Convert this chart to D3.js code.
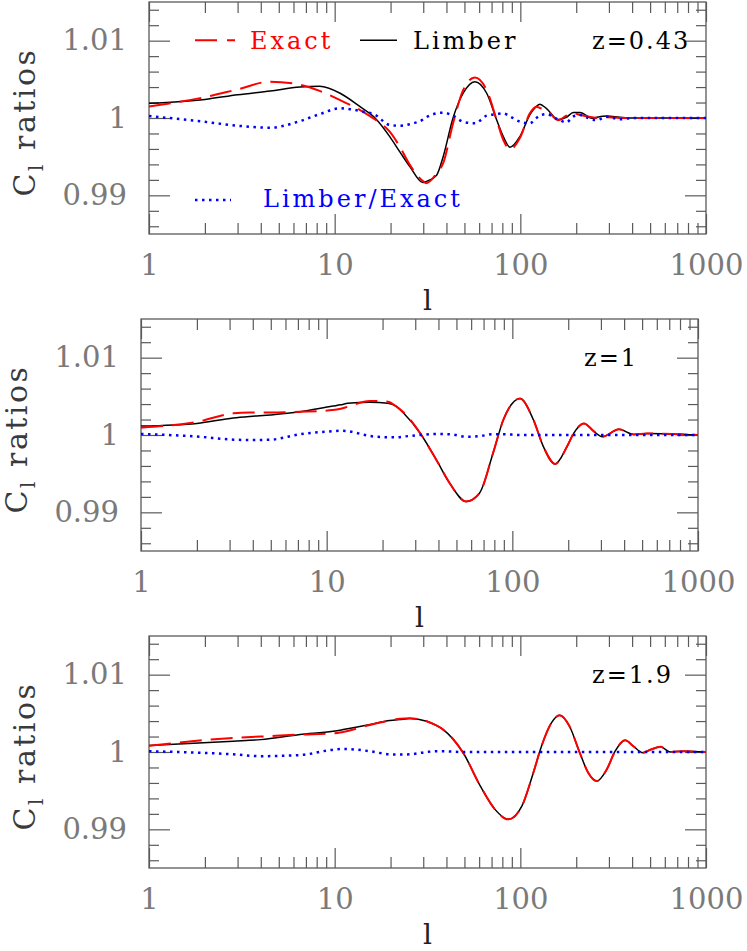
<!DOCTYPE html>
<html>
<head>
<meta charset="utf-8">
<script src="https://cdn.jsdelivr.net/npm/d3@7"></script>
<style>
  body { margin: 0; background: #fff; }
  svg { display: block; font-family: "DejaVu Serif", serif; }
</style>
</head>
<body>
<div id="chart"></div>
<script>
// z = 0.43
const ell1 = [1, 2, 3, 4.5, 6.5, 8.3, 10.7, 13.7, 16.5, 19.8, 22.4, 25.4, 29.9, 31.2, 35.4, 38.4, 43.4, 49.2, 56.9, 65.9, 74.6, 81, 88, 99.4, 112.5, 122, 127.3, 138, 160, 177, 193, 210, 243, 258, 292, 344, 400, 1000];
const limber1 = [1.0019, 1.0024, 1.003, 1.0035, 1.004, 1.0041, 1.0032, 1.00146, 1.0, 0.99759, 0.99565, 0.99372, 0.99165, 0.9918, 0.9926, 0.995, 1.0, 1.0032, 1.0047, 1.0032, 0.99974, 0.9976, 0.99622, 0.9976, 1.0004, 1.0015, 1.00177, 1.00125, 0.9998, 1.0001, 1.0007, 1.0007, 0.99996, 1.0001, 1.00026, 1.0001, 1.0, 1.0];
const exact1 = [1.0015, 1.0027, 1.0037, 1.0047, 1.0043, 1.0035, 1.0023, 1.00103, 0.9998, 0.99823, 0.9963, 0.99394, 0.99185, 0.99157, 0.99286, 0.99415, 0.9993, 1.0036, 1.00525, 1.0036, 0.99974, 0.99716, 0.99596, 0.9974, 1.0006, 1.00146, 1.0013, 1.00103, 0.9997, 1.0003, 1.0006, 1.0004, 1.0001, 1.0, 1.0001, 1.0, 1.0, 1.0];
const ratio1 = [1.00026, 0.9995, 0.999, 0.99875, 0.9996, 1.0005, 1.00125, 1.0009, 1.0004, 0.9991, 0.999, 0.9992, 0.9998, 1.0001, 1.0006, 1.00069, 1.0003, 0.9995, 0.99931, 1.0003, 1.0005, 1.0006, 1.0002, 0.99953, 0.9993, 1.0, 1.0003, 1.0005, 0.9998, 0.99944, 1.0002, 1.0004, 0.9998, 0.99974, 1.00017, 0.99983, 1.0, 1.0];

// z = 1
const ell2 = [1, 2, 3.14, 3.86, 5, 7.18, 10.8, 11.9, 13, 17.1, 21.4, 23.7, 26, 31.9, 39, 46, 56.4, 66.5, 78.7, 89.4, 110, 130, 147, 170, 197, 214, 243, 276, 305, 375, 451, 532, 1000];
const limber2 = [1.00116, 1.0015, 1.0022, 1.0024, 1.0026, 1.003, 1.00374, 1.0039, 1.0041, 1.00425, 1.0041, 1.0037, 1.0028, 1.00022, 0.99677, 0.99376, 0.9914, 0.99247, 0.99764, 1.00194, 1.00473, 1.00194, 0.9985, 0.99626, 0.9985, 1.00022, 1.0015, 1.00043, 0.99978, 1.00073, 1.00008, 1.0002, 1.0];
const exact2 = [1.00095, 1.0017, 1.0028, 1.0029, 1.0029, 1.003, 1.00323, 1.0034, 1.00366, 1.0044, 1.0043, 1.0037, 1.0029, 1.00022, 0.99677, 0.99376, 0.9914, 0.99247, 0.99764, 1.00194, 1.00473, 1.00194, 0.9985, 0.99626, 0.9985, 1.00022, 1.0015, 1.00043, 0.99978, 1.00073, 1.00008, 1.0002, 1.0];
const ratio2 = [1.00013, 0.9998, 0.9994, 0.99935, 0.9994, 1.0001, 1.0005, 1.00056, 1.0005, 0.99987, 0.9997, 0.9997, 0.9998, 1.0, 1.00013, 1.0001, 0.99978, 0.99985, 1.0001, 1.0001, 1.0, 1.0, 1.0, 1.0, 1.0, 1.0, 1.0, 1.0, 1.0, 1.0, 1.0, 1.0, 1.0];

// z = 1.9
const ell3 = [1, 2.84, 4, 6.5, 9.8, 11.1, 15.5, 19.8, 22.5, 25.4, 31.3, 35.5, 38.4, 49.2, 60.9, 73, 86.1, 101.9, 117.5, 130, 147, 163, 184, 209, 232, 258, 292, 324, 367, 406, 457, 505, 570, 640, 766, 1000];
const limber3 = [1.00084, 1.0014, 1.0016, 1.00226, 1.00269, 1.0029, 1.00355, 1.00406, 1.0042, 1.00432, 1.00397, 1.0034, 1.0029, 0.9999, 0.99559, 0.99258, 0.99129, 0.993, 0.99732, 1.00075, 1.00376, 1.00475, 1.00333, 0.9999, 0.99732, 0.99624, 0.99774, 1.0001, 1.00152, 1.00075, 0.9999, 1.00032, 1.00067, 1.0, 1.0001, 1.0];
const exact3 = [1.0008, 1.00183, 1.002, 1.00226, 1.0024, 1.0026, 1.0035, 1.00406, 1.0043, 1.00435, 1.00397, 1.0034, 1.0029, 0.9999, 0.99559, 0.99258, 0.99129, 0.993, 0.99732, 1.00075, 1.00376, 1.00475, 1.00333, 0.9999, 0.99732, 0.99624, 0.99774, 1.0001, 1.00152, 1.00075, 0.9999, 1.00032, 1.00067, 1.0, 1.0001, 1.0];
const ratio3 = [1.0001, 0.9997, 0.99946, 0.9996, 1.0003, 1.0004, 1.0001, 0.9997, 0.99968, 0.9997, 1.0, 1.0001, 1.0001, 1.0, 1.0, 1.0, 1.0, 1.0, 1.0, 1.0, 1.0, 1.0, 1.0, 1.0, 1.0, 1.0, 1.0, 1.0, 1.0, 1.0, 1.0, 1.0, 1.0, 1.0, 1.0, 1.0];

const xTickLabels = [1, 10, 100, 1000];
const yTickLabels = [0.99, 1, 1.01];
const panelLabels = ["z=0.43", "z=1", "z=1.9"];
const legendLabels = ["Exact", "Limber", "Limber/Exact"];

const width = 747, height = 951;
const plotW = 557, plotH = 232;
const frameColor = "#5a5a5a";
const labelColor = "#7a7a7a";
const fontFamily = "'DejaVu Serif', serif";

const panels = [
  { left: 149, top: 2, ell: ell1, limber: limber1, exact: exact1, ratio: ratio1, label: panelLabels[0], legend: true },
  { left: 141, top: 319, ell: ell2, limber: limber2, exact: exact2, ratio: ratio2, label: panelLabels[1], legend: false },
  { left: 149, top: 636, ell: ell3, limber: limber3, exact: exact3, ratio: ratio3, label: panelLabels[2], legend: false }
];

const x = d3.scaleLog().domain([1, 1000]).range([0, plotW]);
const y = d3.scaleLinear().domain([0.985, 1.015]).range([plotH, 0]);

const xMinor = x.ticks().filter(d => !xTickLabels.includes(d));
const yMinor = d3.range(0.986, 1.0145, 0.002).filter(d => !yTickLabels.some(v => Math.abs(v - d) < 1e-6));

const svg = d3.select("#chart")
  .append("svg")
  .attr("width", width)
  .attr("height", height);

const line = d3.line()
  .x(d => x(d[0]))
  .y(d => y(d[1]))
  .curve(d3.curveMonotoneX);

function styleAxis(g) {
  g.select(".domain").remove();
  g.selectAll(".tick line")
    .attr("stroke", frameColor)
    .attr("stroke-width", 1.2);
  g.selectAll(".tick text")
    .attr("fill", labelColor)
    .style("font-family", fontFamily)
    .style("font-size", "29px");
}

function drawTicks(g) {
  // major + minor, all pointing into the frame
  g.append("g")
    .attr("transform", `translate(0,${plotH})`)
    .call(d3.axisBottom(x).tickValues(xTickLabels).tickSize(-20).tickSizeOuter(0).tickFormat(String))
    .call(styleAxis)
    .selectAll(".tick text")
    .attr("y", 41)
    .attr("dy", null);

  g.append("g")
    .attr("transform", `translate(0,${plotH})`)
    .call(d3.axisBottom(x).tickValues(xMinor).tickSize(-11).tickSizeOuter(0).tickFormat(""))
    .call(styleAxis);

  g.append("g")
    .call(d3.axisTop(x).tickValues(xTickLabels).tickSize(-20).tickSizeOuter(0).tickFormat(""))
    .call(styleAxis);

  g.append("g")
    .call(d3.axisTop(x).tickValues(xMinor).tickSize(-11).tickSizeOuter(0).tickFormat(""))
    .call(styleAxis);

  g.append("g")
    .call(d3.axisLeft(y).tickValues(yTickLabels).tickSize(-21).tickSizeOuter(0).tickFormat(String))
    .call(styleAxis)
    .selectAll(".tick text")
    .attr("x", -22);

  g.append("g")
    .call(d3.axisLeft(y).tickValues(yMinor).tickSize(-10).tickSizeOuter(0).tickFormat(""))
    .call(styleAxis);

  g.append("g")
    .attr("transform", `translate(${plotW},0)`)
    .call(d3.axisRight(y).tickValues(yTickLabels).tickSize(-21).tickSizeOuter(0).tickFormat(""))
    .call(styleAxis);

  g.append("g")
    .attr("transform", `translate(${plotW},0)`)
    .call(d3.axisRight(y).tickValues(yMinor).tickSize(-10).tickSizeOuter(0).tickFormat(""))
    .call(styleAxis);

  g.append("rect")
    .attr("width", plotW)
    .attr("height", plotH)
    .attr("fill", "none")
    .attr("stroke", frameColor)
    .attr("stroke-width", 1.3);
}

function drawCurves(g, p) {
  g.append("path")
    .datum(d3.zip(p.ell, p.limber))
    .attr("fill", "none")
    .attr("stroke", "#000")
    .attr("stroke-width", 1.5)
    .attr("d", line);

  g.append("path")
    .datum(d3.zip(p.ell, p.exact))
    .attr("fill", "none")
    .attr("stroke", "#ff0000")
    .attr("stroke-width", 2)
    .attr("stroke-dasharray", "22,9")
    .attr("d", line);

  g.append("path")
    .datum(d3.zip(p.ell, p.ratio))
    .attr("fill", "none")
    .attr("stroke", "#0000ff")
    .attr("stroke-width", 2.5)
    .attr("stroke-dasharray", "2.5,4.5")
    .attr("d", line);
}

function drawLabels(g, p) {
  const ylab = g.append("text")
    .attr("transform", `translate(-114,${plotH / 2 + 4}) rotate(-90)`)
    .attr("text-anchor", "middle")
    .attr("fill", "#3a3a3a")
    .style("font-size", "30px")
    .style("letter-spacing", "2.5px");
  ylab.append("tspan").text("C");
  ylab.append("tspan").attr("dy", 8).style("font-size", "20px").text("l");
  ylab.append("tspan").attr("dy", -8).text(" ratios");

  g.append("text")
    .attr("x", plotW / 2)
    .attr("y", plotH + 76)
    .attr("text-anchor", "middle")
    .attr("fill", "#222")
    .style("font-size", "28px")
    .text("l");

  g.append("text")
    .attr("x", 443)
    .attr("y", 47)
    .attr("fill", "#000")
    .style("font-size", "24px")
    .style("letter-spacing", "2px")
    .text(p.label);
}

function drawLegend(g) {
  const yTop = y(1.01) - 0.5;
  const legendFont = "24px";
  g.append("line")
    .attr("x1", 46).attr("x2", 86)
    .attr("y1", yTop).attr("y2", yTop)
    .attr("stroke", "#ff0000")
    .attr("stroke-width", 2)
    .attr("stroke-dasharray", "22,10");
  g.append("text")
    .attr("x", 101).attr("y", 47)
    .attr("fill", "#ff0000")
    .style("font-size", legendFont)
    .style("letter-spacing", "3px")
    .text(legendLabels[0]);

  g.append("line")
    .attr("x1", 211).attr("x2", 248)
    .attr("y1", yTop).attr("y2", yTop)
    .attr("stroke", "#000")
    .attr("stroke-width", 1.5);
  g.append("text")
    .attr("x", 264).attr("y", 47)
    .attr("fill", "#000")
    .style("font-size", legendFont)
    .style("letter-spacing", "3px")
    .text(legendLabels[1]);

  const yBot = 198;
  g.append("line")
    .attr("x1", 46).attr("x2", 82)
    .attr("y1", yBot).attr("y2", yBot)
    .attr("stroke", "#0000ff")
    .attr("stroke-width", 2.5)
    .attr("stroke-dasharray", "2.5,4.5");
  g.append("text")
    .attr("x", 114).attr("y", 205)
    .attr("fill", "#0000ff")
    .style("font-size", legendFont)
    .style("letter-spacing", "3px")
    .text(legendLabels[2]);
}

panels.forEach(p => {
  const g = svg.append("g").attr("transform", `translate(${p.left},${p.top})`);
  drawTicks(g);
  drawCurves(g, p);
  drawLabels(g, p);
  if (p.legend) drawLegend(g);
});
</script>
</body>
</html>
